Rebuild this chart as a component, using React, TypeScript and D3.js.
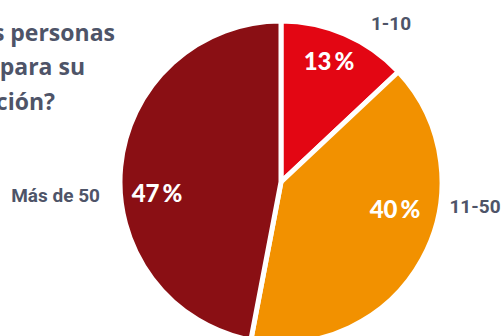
import React from "react";
import * as d3 from "d3";

const categories = ["1-10", "11-50", "Más de 50"];
const values = [13, 40, 47];
const colors = ["#e30613", "#f29100", "#8a0f14"];
const titleLines = ["¿Cuántas personas", "trabajan para su", "organización?"];

const W = 502, H = 336;
const cx = 281, cy = 182, R = 161;

const pctPos = [
  { x: 329, y: 70 },
  { x: 395, y: 218 },
  { x: 157, y: 202 },
];
const catPos = [
  { x: 391, y: 30, anchor: "middle" },
  { x: 475, y: 213, anchor: "middle" },
  { x: 100, y: 202, anchor: "end" },
];
const titleEnds = [
  { x: 115, y: 41 },
  { x: 85, y: 75 },
  { x: 55, y: 110 },
];

export default function App() {
  const pie = d3.pie<number>().sort(null).value((d) => d);
  const arcs = pie(values);
  const arc = d3.arc<d3.PieArcDatum<number>>().innerRadius(0).outerRadius(R);
  return (
    <svg width={W} height={H} style={{ position: "absolute", left: 0, top: 0, background: "#fff" }}>
      <g transform={`translate(${cx},${cy})`}>
        {arcs.map((a, i) => (
          <path key={i} d={arc(a) || ""} fill={colors[i]} stroke="#fff" strokeWidth={5} strokeLinejoin="round" />
        ))}
      </g>
      {arcs.map((a, i) => (
        <text
          key={"p" + i}
          x={pctPos[i].x}
          y={pctPos[i].y}
          textAnchor="middle"
          fill="#fff"
          fontFamily="Lato, sans-serif"
          fontWeight={900}
          fontSize={24}
        >
          {values[i]}{"\u2009"}%
        </text>
      ))}
      {categories.map((c, i) => (
        <text
          key={"c" + i}
          x={catPos[i].x}
          y={catPos[i].y}
          textAnchor={catPos[i].anchor as any}
          fill="#4e5468"
          fontFamily="Roboto, sans-serif"
          fontWeight={700}
          fontSize={19}
        >
          {c}
        </text>
      ))}
      {titleLines.map((t, i) => (
        <text
          key={"t" + i}
          x={titleEnds[i].x}
          y={titleEnds[i].y}
          textAnchor="end"
          fill="#4e5468"
          fontFamily="'Open Sans', sans-serif"
          fontWeight={700}
          fontSize={23}
        >
          {t}
        </text>
      ))}
    </svg>
  );
}
